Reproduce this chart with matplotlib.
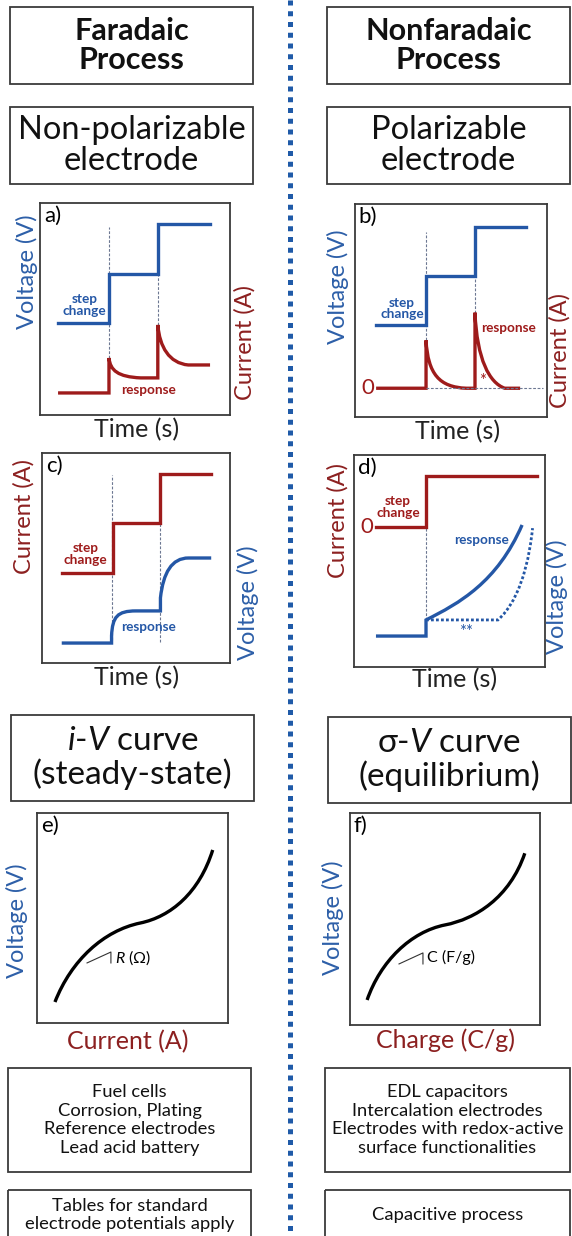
"""
Faradaic vs nonfaradaic processes: schematic comparison panels a)-f)
with the header / summary boxes, recreated as a single tall figure.
"""
import matplotlib.pyplot as plt
from matplotlib.path import Path
from matplotlib.patches import PathPatch, Rectangle

plt.rcParams["font.family"] = ["Lato", "DejaVu Sans"]
plt.rcParams["mathtext.fontset"] = "custom"
plt.rcParams["mathtext.it"] = "Lato:italic"
plt.rcParams["mathtext.rm"] = "Lato"

W, H = 572, 1236

BLUE = "#2457a6"
RED = "#9e1b1b"
LBL_BLUE = "#2d5fa8"
LBL_RED = "#8c2020"
DASH = "#6d7892"
EDGE = "#3a3a3a"

# ---- panel a: faradaic, potential step -> current response
A_VOLT_X = [0.095, 0.363, 0.363, 0.62, 0.62, 0.895]
A_VOLT_Y = [0.434, 0.434, 0.665, 0.665, 0.90, 0.90]
A_CURR_X = [0.095, 0.363, 0.363, 0.37, 0.41, 0.53, 0.62, 0.62, 0.63, 0.68, 0.78, 0.895]
A_CURR_Y = [0.104, 0.104, 0.269, 0.21, 0.18, 0.175, 0.175, 0.425, 0.32, 0.245, 0.236, 0.236]
A_CURR_SEG = "MLLCCCLLCCCL"
A_MARK_X = [0.363, 0.62]
A_MARK_TOP = [0.887, 0.665]
A_MARK_BOT = [0.269, 0.425]

# ---- panel b: nonfaradaic, potential step -> decaying current
B_VOLT_X = [0.11, 0.37, 0.37, 0.625, 0.625, 0.89]
B_VOLT_Y = [0.43, 0.43, 0.66, 0.66, 0.89, 0.89]
B_CURR_X = [0.11, 0.37, 0.37, 0.38, 0.44, 0.58, 0.625, 0.625, 0.635, 0.70, 0.78, 0.86]
B_CURR_Y = [0.135, 0.135, 0.36, 0.20, 0.14, 0.135, 0.135, 0.49, 0.27, 0.16, 0.135, 0.135]
B_CURR_SEG = "MLLCCCLLCCCL"
B_MARK_X = [0.37, 0.625]
B_MARK_TOP = [0.87, 0.66]
B_MARK_BOT = [0.36, 0.49]
B_ZERO = 0.135

# ---- panel c: faradaic, current step -> voltage response
C_CURR_X = [0.105, 0.375, 0.375, 0.63, 0.63, 0.90]
C_CURR_Y = [0.43, 0.43, 0.667, 0.667, 0.90, 0.90]
C_VOLT_X = [0.105, 0.37, 0.37, 0.375, 0.40, 0.50, 0.63, 0.63, 0.645, 0.69, 0.78, 0.90]
C_VOLT_Y = [0.095, 0.095, 0.13, 0.22, 0.248, 0.248, 0.248, 0.31, 0.43, 0.50, 0.50, 0.50]
C_VOLT_SEG = "MLLCCCLLCCCL"
C_MARK_X = [0.372, 0.63]
C_MARK_TOP = [0.895, 0.667]
C_MARK_BOT = [0.11, 0.10]

# ---- panel d: nonfaradaic, current step -> voltage ramp
D_CURR_X = [0.115, 0.377, 0.377, 0.96]
D_CURR_Y = [0.66, 0.66, 0.90, 0.90]
D_VOLT_X = [0.115, 0.377, 0.377, 0.55, 0.75, 0.88]
D_VOLT_Y = [0.146, 0.146, 0.222, 0.30, 0.40, 0.67]
D_VOLT_SEG = "MLLCCC"
D_DOT_X = [0.377, 0.754, 0.80, 0.90, 0.935]
D_DOT_Y = [0.222, 0.222, 0.26, 0.36, 0.655]
D_DOT_SEG = "MLCCC"
D_MARK_X = [0.377]
D_MARK_TOP = [0.66]
D_MARK_BOT = [0.222]

# ---- panels e / f: steady-state and equilibrium curves
E_X = [0.094, 0.18, 0.35, 0.54, 0.70, 0.85, 0.92]
E_Y = [0.10, 0.30, 0.44, 0.476, 0.506, 0.62, 0.824]
E_SLOPE_X = [0.262, 0.387, 0.387]
E_SLOPE_Y = [0.286, 0.338, 0.286]
F_X = [0.09, 0.16, 0.32, 0.50, 0.66, 0.84, 0.92]
F_Y = [0.118, 0.30, 0.44, 0.472, 0.50, 0.60, 0.81]
F_SLOPE_X = [0.258, 0.384, 0.384]
F_SLOPE_Y = [0.288, 0.34, 0.288]
CURVE_SEG = "MCCCCCC"

LEFT_USES = ["Fuel cells", "Corrosion, Plating", "Reference electrodes", "Lead acid battery"]
RIGHT_USES = ["EDL capacitors", "Intercalation electrodes",
              "Electrodes with redox-active", "surface functionalities"]

CODES = {"M": Path.MOVETO, "L": Path.LINETO, "C": Path.CURVE4}


def draw_path(ax, xs, ys, seg, **kw):
    path = Path(list(zip(xs, ys)), [CODES[c] for c in seg])
    ax.add_patch(PathPatch(path, fill=False, capstyle="butt", joinstyle="miter", **kw))


def marks(ax, xs, tops, bots):
    for x, t, b in zip(xs, tops, bots):
        ax.plot([x, x], [b, t], color=DASH, lw=0.8, ls=(0, (2.5, 1.5)), zorder=1)


def place(x0, y0, x1, y1):
    ax = fig.add_axes([x0 / W, 1 - y1 / H, (x1 - x0) / W, (y1 - y0) / H])
    ax.set_xlim(0, 1)
    ax.set_ylim(0, 1)
    ax.set_xticks([])
    ax.set_yticks([])
    for s in ax.spines.values():
        s.set_color(EDGE)
        s.set_linewidth(1.3)
    return ax


def label(x, y, s, color, rot=0, size=17):
    bg.text(x, y, s, color=color, rotation=rot, fontsize=size,
            ha="center", va="center")


def box(x0, y0, x1, y1, lines, size, weight="normal", spacing=1.0):
    bg.add_patch(Rectangle((x0, y0), x1 - x0, y1 - y0, fill=False,
                           ec=EDGE, lw=1.3))
    bg.text((x0 + x1) / 2, (y0 + y1) / 2, "\n".join(lines), ha="center",
            va="center", fontsize=size, fontweight=weight, linespacing=spacing,
            color="#111111")


fig = plt.figure(figsize=(W / 100, H / 100), dpi=100)
bg = fig.add_axes([0, 0, 1, 1])
bg.set_xlim(0, W)
bg.set_ylim(H, 0)
bg.axis("off")

# divider of small blue squares
bg.plot([290, 290], [0, H], color="#1f5aa8", lw=3.6, ls=(0, (1.0, 1.15)),
        dash_capstyle="butt")

box(10, 7, 253, 84, ["Faradaic", "Process"], 22, "bold", 1.08)
box(327, 7, 570, 84, ["Nonfaradaic", "Process"], 22, "bold", 1.08)
box(10, 107, 253, 184, ["Non-polarizable", "electrode"], 23.5, spacing=1.03)
box(327, 107, 570, 184, ["Polarizable", "electrode"], 23.5, spacing=1.03)
box(11, 715, 254, 801, ["$i$-$V$ curve", "(steady-state)"], 24, spacing=1.1)
box(328, 717, 571, 803, ["σ-$V$ curve", "(equilibrium)"], 24, spacing=1.1)
box(8, 1068, 251, 1172, LEFT_USES, 13.2, spacing=1.22)
box(325, 1068, 570, 1172, RIGHT_USES, 13.2, spacing=1.22)
box(8, 1190, 251, 1240, ["Tables for standard", "electrode potentials apply"], 13.2, spacing=1.18)
box(325, 1190, 570, 1240, ["Capacitive process"], 13.2)

LW = 2.4
small = dict(fontsize=9.8, fontweight="bold", ha="center", va="center", linespacing=0.95)

# a)
ax = place(40, 203, 230, 415)
marks(ax, A_MARK_X, A_MARK_TOP, A_MARK_BOT)
ax.plot(A_VOLT_X, A_VOLT_Y, color=BLUE, lw=LW, solid_joinstyle="miter")
draw_path(ax, A_CURR_X, A_CURR_Y, A_CURR_SEG, ec=RED, lw=LW)
ax.text(0.02, 0.985, "a)", fontsize=16, va="top", ha="left")
ax.text(0.235, 0.52, "step\nchange", color=BLUE, **small)
ax.text(0.57, 0.12, "response", color=RED, **small)
label(27, 272, "Voltage (V)", LBL_BLUE, 90)
label(245, 343, "Current (A)", LBL_RED, 90)
label(137, 430, "Time (s)", "#222222", size=18)

# b)
ax = place(355, 204, 547, 417)
marks(ax, B_MARK_X, B_MARK_TOP, B_MARK_BOT)
ax.plot([B_MARK_X[0], 0.98], [B_ZERO, B_ZERO], color=DASH, lw=0.8, ls=(0, (2.5, 1.5)))
ax.plot(B_VOLT_X, B_VOLT_Y, color=BLUE, lw=LW, solid_joinstyle="miter")
draw_path(ax, B_CURR_X, B_CURR_Y, B_CURR_SEG, ec=RED, lw=LW)
ax.text(0.02, 0.985, "b)", fontsize=16, va="top", ha="left")
ax.text(0.065, B_ZERO, "0", color=RED, fontsize=16, ha="center", va="center")
ax.text(0.245, 0.51, "step\nchange", color=BLUE, **small)
ax.text(0.80, 0.42, "response", color=RED, **small)
ax.text(0.665, 0.17, "*", color=RED, fontsize=12, ha="center", va="center")
label(338, 287, "Voltage (V)", LBL_BLUE, 90)
label(560, 350, "Current (A)", LBL_RED, 90)
label(458, 432, "Time (s)", "#222222", size=18)

# c)
ax = place(42, 453, 230, 663)
marks(ax, C_MARK_X, C_MARK_TOP, C_MARK_BOT)
ax.plot(C_CURR_X, C_CURR_Y, color=RED, lw=LW, solid_joinstyle="miter")
draw_path(ax, C_VOLT_X, C_VOLT_Y, C_VOLT_SEG, ec=BLUE, lw=LW)
ax.text(0.02, 0.985, "c)", fontsize=16, va="top", ha="left")
ax.text(0.23, 0.52, "step\nchange", color=RED, **small)
ax.text(0.565, 0.17, "response", color=BLUE, **small)
label(24, 517, "Current (A)", LBL_RED, 90)
label(248, 603, "Voltage (V)", LBL_BLUE, 90)
label(137, 678, "Time (s)", "#222222", size=18)

# d)
ax = place(354, 455, 545, 667)
marks(ax, D_MARK_X, D_MARK_TOP, D_MARK_BOT)
ax.plot(D_CURR_X, D_CURR_Y, color=RED, lw=LW, solid_joinstyle="miter")
draw_path(ax, D_VOLT_X, D_VOLT_Y, D_VOLT_SEG, ec=BLUE, lw=LW)
draw_path(ax, D_DOT_X, D_DOT_Y, D_DOT_SEG, ec=BLUE, lw=2.0, ls=(0, (1, 0.8)))
ax.text(0.02, 0.985, "d)", fontsize=16, va="top", ha="left")
ax.text(0.065, 0.66, "0", color=RED, fontsize=16, ha="center", va="center")
ax.text(0.23, 0.755, "step\nchange", color=RED, **small)
ax.text(0.67, 0.60, "response", color=BLUE, **small)
ax.text(0.585, 0.165, "**", color=BLUE, fontsize=12, ha="center", va="center")
label(338, 520, "Current (A)", LBL_RED, 90)
label(557, 597, "Voltage (V)", LBL_BLUE, 90)
label(455, 680, "Time (s)", "#222222", size=18)

# e)
ax = place(37, 813, 228, 1023)
draw_path(ax, E_X, E_Y, CURVE_SEG, ec="black", lw=LW)
ax.plot(E_SLOPE_X, E_SLOPE_Y, color="#333333", lw=0.8)
ax.text(0.41, 0.31, "$R$ (Ω)", fontsize=11.5, ha="left", va="center")
ax.text(0.02, 0.985, "e)", fontsize=16, va="top", ha="left")
label(17, 921, "Voltage (V)", LBL_BLUE, 90)
label(128, 1042, "Current (A)", LBL_RED, size=18)

# f)
ax = place(350, 813, 540, 1025)
draw_path(ax, F_X, F_Y, CURVE_SEG, ec="black", lw=LW)
ax.plot(F_SLOPE_X, F_SLOPE_Y, color="#333333", lw=0.8)
ax.text(0.405, 0.32, "C (F/g)", fontsize=11.5, ha="left", va="center")
ax.text(0.02, 0.985, "f)", fontsize=16, va="top", ha="left")
label(333, 918, "Voltage (V)", LBL_BLUE, 90)
label(445, 1040, "Charge (C/g)", LBL_RED, size=18)

fig.savefig("out.png", dpi=100)
